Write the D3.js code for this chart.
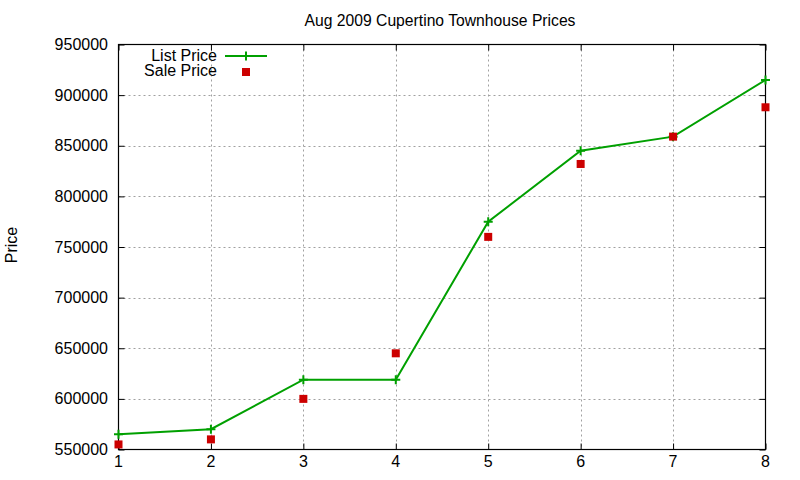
<!DOCTYPE html>
<html>
<head>
<meta charset="utf-8">
<script src="https://d3js.org/d3.v7.min.js"></script>
<style>
    body { margin: 0; background: #fff; }
    text { font-family: "Liberation Sans", Arial, sans-serif; fill: #000; }
    .grid line { stroke: #a0a0a0; stroke-width: 1; stroke-dasharray: 2,3; }
</style>
</head>
<body>
<svg id="chart" width="800" height="480"></svg>
<script>
// house index 1..8
var houses = [1, 2, 3, 4, 5, 6, 7, 8];
var listPrice = [565000, 570000, 619000, 619000, 775000, 845000, 859000, 915000];
var salePrice = [555000, 560000, 600000, 645000, 760000, 832000, 859000, 888000];
var yTicks = [550000, 600000, 650000, 700000, 750000, 800000, 850000, 900000, 950000];
var xTicks = [1, 2, 3, 4, 5, 6, 7, 8];

var plotL = 118.5, plotR = 765.5, plotT = 44.5, plotB = 449.5;
var svg = d3.select("#chart");

var x = d3.scaleLinear().domain([1, 8]).range([plotL, plotR]);
var y = d3.scaleLinear().domain([550000, 950000]).range([plotB, plotT]);

// grid
var grid = svg.append("g").attr("class", "grid");
grid.selectAll(".gx").data(xTicks.slice(1, -1)).enter().append("line")
    .attr("x1", function(d) { return Math.round(x(d)) + 0.5; })
    .attr("x2", function(d) { return Math.round(x(d)) + 0.5; })
    .attr("y1", plotT).attr("y2", plotB);
grid.selectAll(".gy").data(yTicks.slice(1, -1)).enter().append("line")
    .attr("y1", function(d) { return Math.round(y(d)) + 0.5; })
    .attr("y2", function(d) { return Math.round(y(d)) + 0.5; })
    .attr("x1", plotL).attr("x2", plotR);

// axes with inward ticks, mirrored
function noDomain(g) { g.select(".domain").remove(); g.selectAll("text").remove(); }
svg.append("g").attr("transform", "translate(" + plotL + ",0)")
    .call(d3.axisRight(y).tickValues(yTicks).tickSize(6)).call(noDomain);
svg.append("g").attr("transform", "translate(" + plotR + ",0)")
    .call(d3.axisLeft(y).tickValues(yTicks).tickSize(6)).call(noDomain);
svg.append("g").attr("transform", "translate(0," + plotB + ")")
    .call(d3.axisTop(x).tickValues(xTicks).tickSize(6)).call(noDomain);
svg.append("g").attr("transform", "translate(0," + plotT + ")")
    .call(d3.axisBottom(x).tickValues(xTicks).tickSize(6)).call(noDomain);
svg.selectAll(".tick line").attr("stroke", "#000");

svg.append("rect")
    .attr("x", plotL).attr("y", plotT)
    .attr("width", plotR - plotL).attr("height", plotB - plotT)
    .attr("fill", "none").attr("stroke", "#000").attr("stroke-width", 1.2);

// tick labels
svg.selectAll(".ylab").data(yTicks).enter().append("text")
    .attr("x", 108).attr("y", function(d) { return y(d) + 5.5; })
    .attr("text-anchor", "end").style("font-size", "16px")
    .text(function(d) { return d; });
svg.selectAll(".xlab").data(xTicks).enter().append("text")
    .attr("x", function(d) { return x(d); }).attr("y", 467)
    .attr("text-anchor", "middle").style("font-size", "16px")
    .text(function(d) { return d; });

svg.append("text")
    .attr("x", 440).attr("y", 26)
    .attr("text-anchor", "middle").style("font-size", "15.7px")
    .text("Aug 2009 Cupertino Townhouse Prices");

svg.append("text")
    .attr("transform", "translate(17,245) rotate(-90)")
    .attr("text-anchor", "middle").style("font-size", "16px")
    .text("Price");

// list price line
var line = d3.line()
    .x(function(d, i) { return x(houses[i]); })
    .y(function(d) { return y(d); });
svg.append("path").datum(listPrice)
    .attr("d", line)
    .attr("fill", "none").attr("stroke", "#00a000").attr("stroke-width", 2);

function plus(g, cx, cy) {
    g.append("path")
        .attr("d", "M" + (cx - 4.5) + "," + cy + "H" + (cx + 4.5) + "M" + cx + "," + (cy - 4.5) + "V" + (cy + 4.5))
        .attr("stroke", "#00a000").attr("stroke-width", 2).attr("fill", "none");
}
var marks = svg.append("g");
listPrice.forEach(function(d, i) { plus(marks, x(houses[i]), y(d)); });

// sale price points
svg.selectAll(".sale").data(salePrice).enter().append("rect")
    .attr("x", function(d, i) { return x(houses[i]) - 4; })
    .attr("y", function(d) { return y(d) - 4; })
    .attr("width", 8).attr("height", 8)
    .attr("fill", "#cc0000");

// legend
svg.append("text").attr("x", 217).attr("y", 61)
    .attr("text-anchor", "end").style("font-size", "16px").text("List Price");
svg.append("line").attr("x1", 225).attr("x2", 267).attr("y1", 56).attr("y2", 56)
    .attr("stroke", "#00a000").attr("stroke-width", 2);
plus(svg, 246, 56);
svg.append("text").attr("x", 217).attr("y", 76)
    .attr("text-anchor", "end").style("font-size", "16px").text("Sale Price");
svg.append("rect").attr("x", 242).attr("y", 68).attr("width", 8).attr("height", 8)
    .attr("fill", "#cc0000");
</script>
</body>
</html>
